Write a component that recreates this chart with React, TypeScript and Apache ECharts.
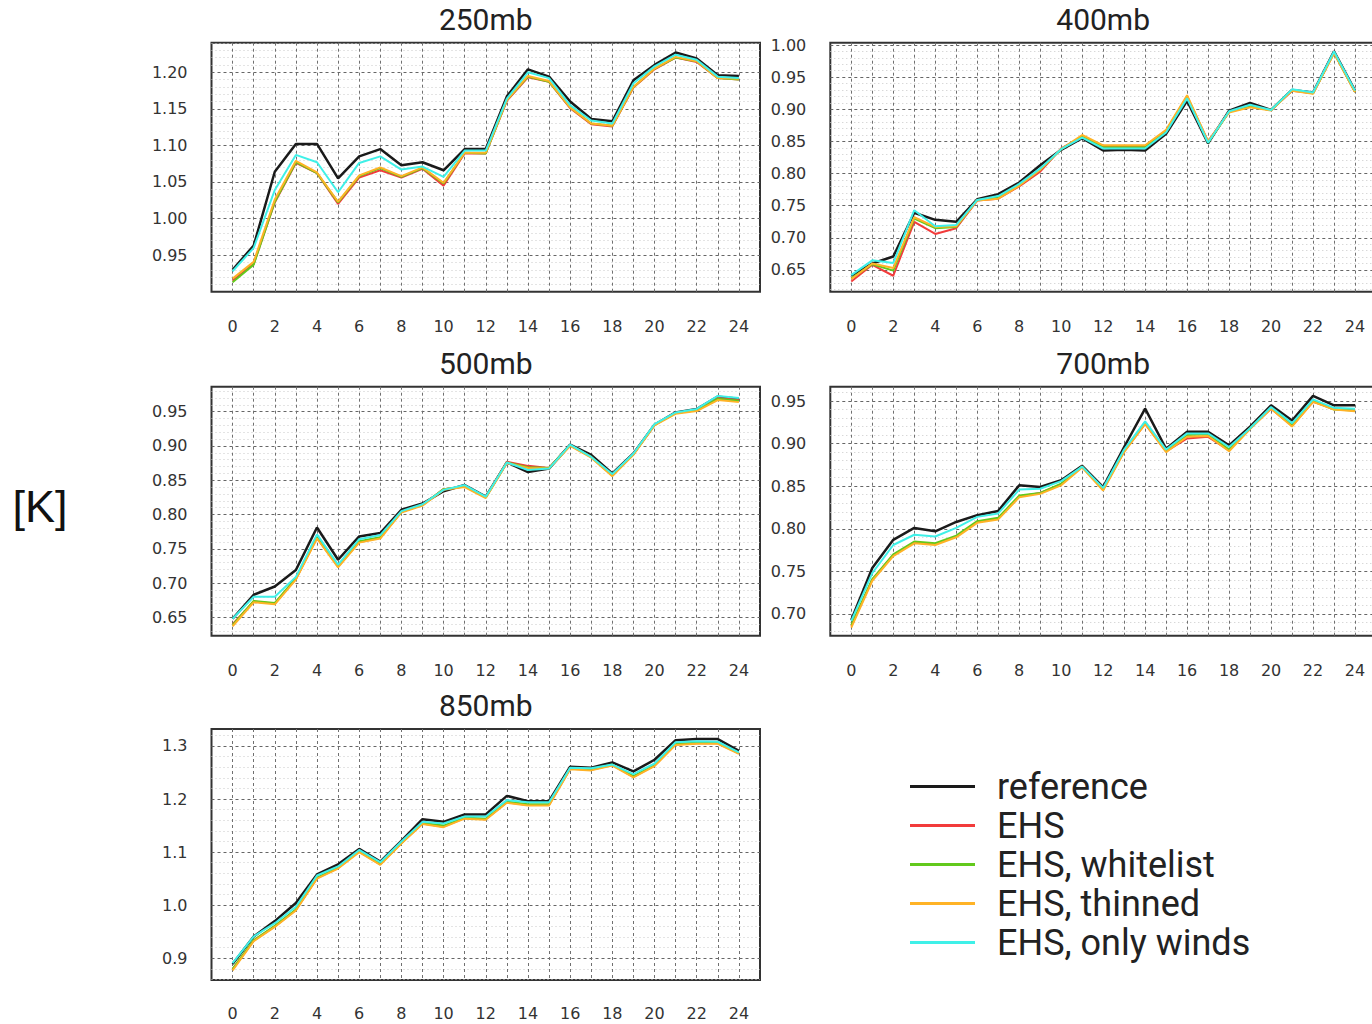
import React, { useEffect, useRef } from "react";
import * as echarts from "echarts";

const HOURS = [0, 1, 2, 3, 4, 5, 6, 7, 8, 9, 10, 11, 12, 13, 14, 15, 16, 17, 18, 19, 20, 21, 22, 23, 24];
const X_LABELS = [0, 2, 4, 6, 8, 10, 12, 14, 16, 18, 20, 22, 24];
const SERIES_NAMES = ["reference", "EHS", "EHS, whitelist", "EHS, thinned", "EHS, only winds"];
const SERIES_COLORS = ["#1a1a1a", "#f23b3b", "#62c91c", "#ffb326", "#3ff0e8"];
const PANEL_TITLES = ["250mb", "400mb", "500mb", "700mb", "850mb"];
const UNIT_LABEL = "[K]";

// 250mb
const p250_ref = [0.930, 0.963, 1.064, 1.102, 1.102, 1.055, 1.085, 1.095, 1.073, 1.077, 1.066, 1.095, 1.095, 1.167, 1.204, 1.194, 1.160, 1.136, 1.133, 1.189, 1.210, 1.227, 1.219, 1.196, 1.195];
const p250_ehs = [0.915, 0.938, 1.022, 1.076, 1.062, 1.020, 1.056, 1.066, 1.056, 1.068, 1.045, 1.089, 1.089, 1.161, 1.193, 1.187, 1.151, 1.129, 1.126, 1.179, 1.204, 1.220, 1.214, 1.192, 1.190];
const p250_white = [0.913, 0.937, 1.023, 1.077, 1.062, 1.022, 1.058, 1.069, 1.057, 1.069, 1.048, 1.090, 1.089, 1.162, 1.194, 1.187, 1.152, 1.130, 1.127, 1.180, 1.205, 1.220, 1.215, 1.192, 1.190];
const p250_thin = [0.918, 0.941, 1.026, 1.079, 1.063, 1.023, 1.059, 1.070, 1.058, 1.070, 1.049, 1.090, 1.090, 1.162, 1.195, 1.188, 1.152, 1.130, 1.127, 1.180, 1.205, 1.221, 1.215, 1.192, 1.191];
const p250_winds = [0.928, 0.960, 1.039, 1.087, 1.077, 1.036, 1.076, 1.085, 1.067, 1.071, 1.057, 1.093, 1.093, 1.164, 1.200, 1.192, 1.155, 1.134, 1.130, 1.185, 1.208, 1.224, 1.217, 1.194, 1.192];

// 400mb
const p400_ref = [0.641, 0.660, 0.671, 0.739, 0.728, 0.725, 0.760, 0.768, 0.786, 0.813, 0.837, 0.855, 0.836, 0.837, 0.836, 0.862, 0.913, 0.847, 0.898, 0.910, 0.899, 0.930, 0.926, 0.990, 0.929];
const p400_ehs = [0.632, 0.658, 0.641, 0.725, 0.706, 0.715, 0.758, 0.761, 0.780, 0.803, 0.839, 0.857, 0.843, 0.843, 0.842, 0.867, 0.920, 0.850, 0.896, 0.904, 0.899, 0.929, 0.925, 0.988, 0.927];
const p400_white = [0.637, 0.659, 0.649, 0.730, 0.715, 0.717, 0.759, 0.763, 0.782, 0.806, 0.838, 0.858, 0.841, 0.841, 0.841, 0.865, 0.920, 0.848, 0.896, 0.904, 0.899, 0.930, 0.925, 0.988, 0.927];
const p400_thin = [0.636, 0.660, 0.653, 0.732, 0.717, 0.718, 0.758, 0.761, 0.781, 0.806, 0.838, 0.860, 0.844, 0.844, 0.844, 0.868, 0.922, 0.850, 0.895, 0.903, 0.898, 0.929, 0.924, 0.987, 0.927];
const p400_winds = [0.642, 0.665, 0.661, 0.743, 0.718, 0.720, 0.759, 0.765, 0.784, 0.808, 0.838, 0.856, 0.839, 0.839, 0.839, 0.864, 0.917, 0.848, 0.897, 0.907, 0.899, 0.931, 0.926, 0.990, 0.929];

// 500mb
const p500_ref = [0.648, 0.683, 0.695, 0.719, 0.781, 0.734, 0.768, 0.773, 0.807, 0.816, 0.834, 0.843, 0.826, 0.876, 0.862, 0.867, 0.902, 0.887, 0.860, 0.889, 0.931, 0.949, 0.954, 0.972, 0.969];
const p500_ehs = [0.640, 0.673, 0.670, 0.706, 0.766, 0.724, 0.760, 0.766, 0.804, 0.814, 0.837, 0.841, 0.825, 0.877, 0.871, 0.868, 0.901, 0.884, 0.857, 0.888, 0.931, 0.948, 0.952, 0.970, 0.967];
const p500_white = [0.639, 0.674, 0.671, 0.707, 0.767, 0.725, 0.761, 0.767, 0.804, 0.814, 0.837, 0.841, 0.825, 0.876, 0.869, 0.868, 0.901, 0.884, 0.857, 0.888, 0.931, 0.948, 0.952, 0.969, 0.966];
const p500_thin = [0.637, 0.672, 0.669, 0.705, 0.765, 0.723, 0.759, 0.765, 0.803, 0.813, 0.836, 0.840, 0.824, 0.875, 0.868, 0.867, 0.900, 0.883, 0.856, 0.887, 0.930, 0.947, 0.951, 0.967, 0.964];
const p500_winds = [0.648, 0.680, 0.680, 0.709, 0.771, 0.727, 0.764, 0.770, 0.805, 0.815, 0.836, 0.843, 0.826, 0.876, 0.865, 0.867, 0.902, 0.884, 0.859, 0.889, 0.932, 0.949, 0.954, 0.973, 0.970];

// 700mb
const p700_ref = [0.693, 0.754, 0.787, 0.801, 0.797, 0.808, 0.816, 0.821, 0.851, 0.849, 0.857, 0.874, 0.849, 0.896, 0.941, 0.894, 0.914, 0.914, 0.898, 0.920, 0.945, 0.927, 0.956, 0.945, 0.945];
const p700_ehs = [0.686, 0.740, 0.769, 0.784, 0.782, 0.791, 0.808, 0.812, 0.838, 0.842, 0.852, 0.873, 0.846, 0.891, 0.923, 0.891, 0.906, 0.908, 0.892, 0.918, 0.941, 0.921, 0.949, 0.941, 0.939];
const p700_white = [0.687, 0.741, 0.770, 0.785, 0.783, 0.792, 0.809, 0.813, 0.839, 0.842, 0.853, 0.873, 0.846, 0.892, 0.925, 0.892, 0.910, 0.911, 0.893, 0.918, 0.942, 0.922, 0.950, 0.940, 0.939];
const p700_thin = [0.684, 0.739, 0.768, 0.783, 0.781, 0.790, 0.807, 0.811, 0.837, 0.841, 0.851, 0.872, 0.845, 0.890, 0.923, 0.890, 0.908, 0.909, 0.891, 0.917, 0.941, 0.920, 0.949, 0.940, 0.938];
const p700_winds = [0.692, 0.748, 0.781, 0.793, 0.791, 0.801, 0.814, 0.818, 0.846, 0.847, 0.856, 0.873, 0.848, 0.893, 0.926, 0.893, 0.912, 0.912, 0.896, 0.918, 0.943, 0.924, 0.952, 0.942, 0.941];

// 850mb
const p850_ref = [0.889, 0.941, 0.970, 1.004, 1.058, 1.077, 1.106, 1.082, 1.121, 1.162, 1.157, 1.171, 1.171, 1.206, 1.196, 1.196, 1.261, 1.259, 1.269, 1.252, 1.274, 1.311, 1.313, 1.313, 1.291];
const p850_ehs = [0.879, 0.933, 0.960, 0.991, 1.051, 1.070, 1.101, 1.077, 1.117, 1.154, 1.148, 1.164, 1.162, 1.194, 1.189, 1.189, 1.257, 1.255, 1.264, 1.242, 1.263, 1.303, 1.305, 1.305, 1.286];
const p850_white = [0.880, 0.934, 0.961, 0.992, 1.052, 1.071, 1.102, 1.078, 1.117, 1.155, 1.150, 1.165, 1.163, 1.195, 1.190, 1.190, 1.258, 1.256, 1.265, 1.243, 1.264, 1.304, 1.306, 1.306, 1.287];
const p850_thin = [0.877, 0.932, 0.959, 0.990, 1.050, 1.069, 1.100, 1.076, 1.116, 1.153, 1.147, 1.163, 1.161, 1.193, 1.188, 1.188, 1.256, 1.254, 1.263, 1.241, 1.262, 1.302, 1.304, 1.304, 1.285];
const p850_winds = [0.891, 0.941, 0.966, 0.997, 1.056, 1.073, 1.104, 1.081, 1.120, 1.157, 1.154, 1.167, 1.167, 1.198, 1.194, 1.194, 1.259, 1.258, 1.265, 1.247, 1.267, 1.307, 1.309, 1.308, 1.288];

const PANEL_DATA = [
  [p250_ref, p250_ehs, p250_white, p250_thin, p250_winds],
  [p400_ref, p400_ehs, p400_white, p400_thin, p400_winds],
  [p500_ref, p500_ehs, p500_white, p500_thin, p500_winds],
  [p700_ref, p700_ehs, p700_white, p700_thin, p700_winds],
  [p850_ref, p850_ehs, p850_white, p850_thin, p850_winds],
];

// y-axis extents and tick steps per panel
const Y_MIN = [0.9, 0.6162, 0.6232, 0.6745, 0.859];
const Y_MAX = [1.2404, 1.0036, 0.9865, 0.9668, 1.332];
const Y_STEP = [0.05, 0.05, 0.05, 0.05, 0.1];
const Y_DIGITS = [2, 2, 2, 2, 1];

// layout (px)
const LAYOUT = [
  { left: 211.5, top: 42.7, width: 548.5, height: 249, xMargin: 27 },
  { left: 830.3, top: 42.7, width: 545.7, height: 249, xMargin: 27 },
  { left: 211.5, top: 386.7, width: 548.5, height: 249, xMargin: 27 },
  { left: 830.3, top: 386.7, width: 545.7, height: 249, xMargin: 27 },
  { left: 211.5, top: 729, width: 548.5, height: 251, xMargin: 25 },
];

const TICK_FONT = "'DejaVu Sans', 'Liberation Sans', sans-serif";
const TEXT_FONT = "Roboto, 'Noto Sans', sans-serif";
const UNIT_FONT = "'Liberation Sans', Arial, sans-serif";

function buildOption() {
  const grid: any[] = [];
  const xAxis: any[] = [];
  const yAxis: any[] = [];
  const series: any[] = [];
  const graphic: any[] = [];

  LAYOUT.forEach((L, p) => {
    grid.push({
      left: L.left,
      top: L.top,
      width: L.width,
      height: L.height,
      show: true,
      borderColor: "#333",
      borderWidth: 2,
      backgroundColor: "transparent",
      containLabel: false,
      outerBoundsMode: "none",
    });
    xAxis.push({
      type: "value",
      gridIndex: p,
      min: -1,
      max: 25,
      interval: 1,
      axisLine: { show: false },
      axisTick: { show: false },
      axisLabel: {
        margin: L.xMargin,
        fontSize: 16,
        fontFamily: TICK_FONT,
        color: "#333",
        formatter: (v: number) => (X_LABELS.indexOf(v) >= 0 ? String(v) : ""),
      },
      splitLine: {
        show: true,
        showMinLine: false,
        showMaxLine: false,
        lineStyle: { color: "#707070", width: 1, type: [3, 3] },
      },
    });
    yAxis.push({
      type: "value",
      gridIndex: p,
      min: Y_MIN[p],
      max: Y_MAX[p],
      minInterval: Y_STEP[p],
      maxInterval: Y_STEP[p],
      splitNumber: 5,
      axisLine: { show: false },
      axisTick: { show: false },
      minorTick: { show: false, splitNumber: 5 },
      axisLabel: {
        margin: 24,
        fontSize: 16,
        fontFamily: TICK_FONT,
        color: "#333",
        showMinLabel: false,
        showMaxLabel: false,
        formatter: (v: number) => v.toFixed(Y_DIGITS[p]),
      },
      splitLine: {
        show: true,
        showMinLine: false,
        showMaxLine: false,
        lineStyle: { color: "#666", width: 1, type: [3, 3] },
      },
      minorSplitLine: {
        show: true,
        lineStyle: { color: "#c8c8c8", width: 1, type: [1, 3] },
      },
    });
    PANEL_DATA[p].forEach((arr, s) => {
      series.push({
        type: "line",
        name: SERIES_NAMES[s],
        xAxisIndex: p,
        yAxisIndex: p,
        data: HOURS.map((h, k) => [h, arr[k]]),
        symbol: "none",
        showSymbol: false,
        color: SERIES_COLORS[s],
        lineStyle: { color: SERIES_COLORS[s], width: s === 0 ? 2.5 : 2 },
        clip: true,
        z: 2 + s,
      });
    });
    graphic.push({
      type: "text",
      x: L.left + L.width / 2,
      y: L.top - 23.5,
      style: {
        text: PANEL_TITLES[p],
        fontSize: 30,
        fontFamily: TEXT_FONT,
        fill: "#222",
        align: "center",
        verticalAlign: "middle",
        textAlign: "center",
        textVerticalAlign: "middle",
      },
    });
  });

  graphic.push({
    type: "text",
    x: 40,
    y: 506,
    style: {
      text: UNIT_LABEL,
      fontSize: 45,
      fontFamily: UNIT_FONT,
      fill: "#111",
      align: "center",
      verticalAlign: "middle",
      textAlign: "center",
      textVerticalAlign: "middle",
    },
  });

  return {
    animation: false,
    backgroundColor: "#ffffff",
    grid,
    xAxis,
    yAxis,
    series,
    graphic,
    legend: {
      data: SERIES_NAMES,
      orient: "vertical",
      left: 910,
      top: 767,
      padding: 0,
      itemGap: 0,
      itemWidth: 65,
      itemHeight: 3,
      icon: "rect",
      selectedMode: false,
      textStyle: {
        fontSize: 36,
        fontFamily: TEXT_FONT,
        color: "#222",
        lineHeight: 39,
        padding: [0, 0, 0, 17],
      },
    },
  };
}

export default function App() {
  const ref = useRef<HTMLDivElement>(null);
  useEffect(() => {
    document.body.style.margin = "0";
    if (!ref.current) return;
    const chart = echarts.init(ref.current, null, { renderer: "svg" });
    chart.setOption(buildOption() as any);
    return () => chart.dispose();
  }, []);
  return <div ref={ref} style={{ width: 1372, height: 1024, overflow: "hidden" }} />;
}
